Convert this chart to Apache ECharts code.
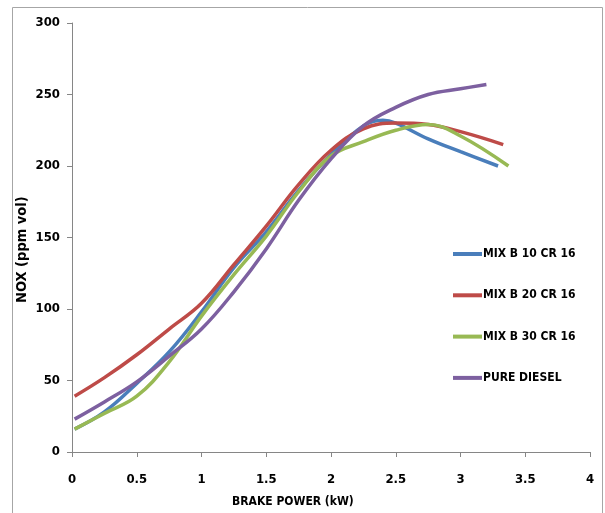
<!DOCTYPE html>
<html><head><meta charset="utf-8">
<script src="https://cdn.jsdelivr.net/npm/echarts@6/dist/echarts.min.js"></script>
<style>html,body{margin:0;padding:0;background:#fff}#c{width:605px;height:513px}</style>
</head><body><div id="c"></div>
<script>
var seriesNames = ['MIX B 10 CR 16', 'MIX B 20 CR 16', 'MIX B 30 CR 16', 'PURE DIESEL'];
var xTicks = [0, 0.5, 1, 1.5, 2, 2.5, 3, 3.5, 4];
var yTicks = [0, 50, 100, 150, 200, 250, 300];
var mixB10 = [[0.02,16],[0.25,28],[0.5,48],[0.75,70],[1.0,98],[1.25,129],[1.5,154],[1.75,183],[2.0,208],[2.25,228],[2.4,232],[2.5,230],[2.75,219],[3.0,210],[3.29,200]];
var mixB20 = [[0.02,39],[0.25,52],[0.5,68],[0.75,86],[1.0,104],[1.25,131],[1.5,158],[1.75,187],[2.0,211],[2.25,226],[2.5,230],[2.75,229],[3.0,224],[3.33,215]];
var mixB30 = [[0.02,16],[0.25,27],[0.5,39],[0.75,63],[1.0,95],[1.25,124],[1.5,151],[1.75,182],[2.0,207],[2.25,217],[2.5,225],[2.75,229],[3.0,221],[3.37,200]];
var pureDiesel = [[0.02,23],[0.25,35],[0.5,49],[0.75,67],[1.0,86],[1.25,112],[1.5,142],[1.75,176],[2.0,205],[2.25,228],[2.5,241],[2.75,250],[3.0,254],[3.2,257]];
var colors = ['#4a7ebb', '#be4b48', '#98b954', '#7d60a0'];
var FONT = '"DejaVu Sans Condensed", "Liberation Sans", sans-serif';

var chart = echarts.init(document.getElementById('c'), null, {renderer: 'canvas'});
var dataSets = [mixB10, mixB20, mixB30, pureDiesel];
chart.setOption({
  animation: false,
  backgroundColor: '#fff',
  color: colors,
  grid: {left: 72, top: 23, width: 518, height: 429, containLabel: false},
  xAxis: {
    type: 'value', min: 0, max: 4, interval: 0.5,
    axisLine: {lineStyle: {color: '#868686', width: 1}},
    axisTick: {show: true, length: 5, lineStyle: {color: '#868686'}},
    splitLine: {show: false},
    axisLabel: {color: '#000', fontFamily: FONT, fontWeight: 'bold', fontSize: 13, margin: 21,
      formatter: function (v) { return String(v); }}
  },
  yAxis: {
    type: 'value', min: 0, max: 300, interval: 50,
    axisLine: {show: true, lineStyle: {color: '#868686', width: 1}},
    axisTick: {show: true, length: 5, lineStyle: {color: '#868686'}},
    splitLine: {show: false},
    axisLabel: {color: '#000', fontFamily: FONT, fontWeight: 'bold', fontSize: 13, margin: 12}
  },
  legend: {
    orient: 'vertical', left: 448, top: 243,
    icon: 'rect', itemWidth: 29, itemHeight: 4, itemGap: 29.3,
    textStyle: {color: '#000', fontFamily: FONT, fontWeight: 'bold', fontSize: 12, padding: [0,0,0,-4]},
    data: seriesNames
  },
  graphic: [
    {type: 'rect', shape: {x: 12.5, y: 7.5, width: 590, height: 520}, style: {fill: 'none', stroke: '#a6a6a6', lineWidth: 1}, silent: true, z: -1},
    {type: 'text', left: 232, top: 496, style: {text: 'BRAKE POWER (kW)', font: 'bold 12px ' + FONT, fill: '#000'}},
    {type: 'text', x: 15, y: 303, rotation: Math.PI / 2, style: {text: 'NOX (ppm vol)', font: 'bold 14.5px ' + FONT, fill: '#000', textAlign: 'left', textVerticalAlign: 'top'}}
  ],
  series: seriesNames.map(function (n, i) {
    return {name: n, type: 'line', data: dataSets[i], smooth: 0.4, showSymbol: false,
      lineStyle: {width: 3.5, color: colors[i]}};
  })
});
</script></body></html>
